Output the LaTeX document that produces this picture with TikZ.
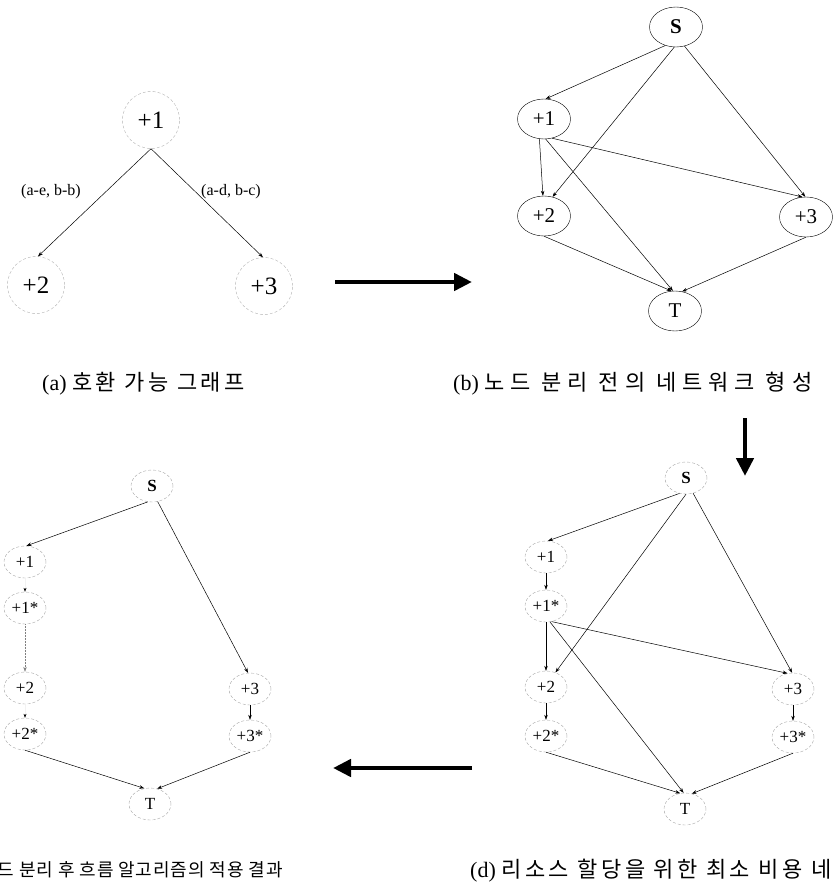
\documentclass[tikz,border=0pt]{standalone}
\usepackage{fontspec}
\setmainfont{Liberation Serif}
\newfontfamily\kr[LetterSpace=16]{Noto Sans CJK KR}
\newfontfamily\krb[LetterSpace=27]{Noto Sans CJK KR}
\newfontfamily\krc[LetterSpace=5]{Noto Sans CJK KR}
\usetikzlibrary{arrows.meta,shapes.geometric}

\tikzset{
  cnode/.style={circle, draw=gray!60, densely dashed, minimum size=57pt, inner sep=0pt, font=\fontsize{25}{25}\selectfont},
  bnode/.style={ellipse, draw, minimum width=53pt, minimum height=40pt, inner sep=0pt, font=\fontsize{21}{21}\selectfont},
  snode/.style={ellipse, draw=gray!70, densely dashed, minimum width=42pt, minimum height=32pt, inner sep=0pt, font=\fontsize{17}{17}\selectfont},
  link/.style={-{Stealth[length=5pt,width=3.5pt]}, line width=0.5pt},
  faint/.style={-{Stealth[length=4pt,width=3pt,color=black]}, draw=gray!10, line width=0.5pt},
  bigarrow/.style={-{Triangle[length=18pt,width=17pt]}, line width=4.5pt},
  captext/.style={font=\fontsize{22}{22}\selectfont, inner sep=0pt},
  elabel/.style={font=\fontsize{16}{16}\selectfont, inner sep=0pt},
}

\begin{document}
\begin{tikzpicture}[x=1pt,y=-1pt]
    \useasboundingbox (0,0) rectangle (833,892);
    \clip (0,0) rectangle (833,892);

    % (a) compatibility graph
    \node[cnode] (a1) at (151,120) {+1};
    \node[cnode] (a2) at (36,285) {+2};
    \node[cnode] (a3) at (264,286) {+3};
    \draw[link] (a1.270) -- (a2.86);
    \draw[link] (a1.270) -- (a3.92);
    \node[elabel] (la) at (51,192) {(a-e, b-b)};
    \node[elabel] (lb) at (231,192) {(a-d, b-c)};
    \node[captext, anchor=west] (capa) at (42,384) {(a)~{\kr 호환 가능 그래프}};

    % (b) network before splitting
    \node[bnode] (bs) at (676,27) {\textbf{S}};
    \node[bnode] (b1) at (544,119) {+1};
    \node[bnode] (b2) at (544,216) {+2};
    \node[bnode] (b3) at (806,217) {+3};
    \node[bnode] (bt) at (675,311) {T};
    \draw[link] (bs.240) -- (b1.85);
    \draw[link] (bs.265) -- (b2.66);
    \draw[link] (bs.294) -- (b3.92);
    \draw[link] (b1.257) -- (b2.93);
    \draw[link] (b1.275) -- (bt.96);
    \draw[link] (b1.293) -- (b3.100);
    \draw[link] (b2.270) -- (bt.100);
    \draw[link] (b3.270) -- (bt.70);
    \node[captext, anchor=west] (capb) at (453,384) {(b)~{\krb 노드 분리 전의 네트워크 형성}};

    % (d) min cost network
    \node[snode] (ds) at (686,478) {\textbf{S}};
    \node[snode] (d1) at (546,557) {+1};
    \node[snode] (d1s) at (546,606) {+1*};
    \node[snode] (d2) at (546,687) {+2};
    \node[snode] (d2s) at (546,736) {+2*};
    \node[snode] (d3) at (793,689) {+3};
    \node[snode] (d3s) at (793,737) {+3*};
    \node[snode] (dt) at (685,809) {T};
    \draw[link] (ds.247) -- (d1.83);
    \draw[link] (ds.270) -- (d2.57);
    \draw[link] (ds.295) -- (d3.93);
    \draw[link] (d1) -- (d1s);
    \draw[link] (d1s) -- (d2);
    \draw[link] (d1s.284) -- (dt.95);
    \draw[link] (d1s.290) -- (d3.109);
    \draw[link] (d2) -- (d2s);
    \draw[link] (d3) -- (d3s);
    \draw[link] (d2s.270) -- (dt.107);
    \draw[link] (d3s.270) -- (dt.66);
    \node[captext, anchor=west] (capd) at (470,871) {(d)~{\kr 리소스 할당을 위한 최소 비용 네트워크}};

    % (c) result of the flow algorithm
    \node[snode] (cs) at (152,486) {\textbf{S}};
    \node[snode] (c1) at (25,562) {+1};
    \node[snode] (c1s) at (25,608) {+1*};
    \node[snode] (c2) at (25,688) {+2};
    \node[snode] (c2s) at (25,734) {+2*};
    \node[snode] (c3) at (250,689) {+3};
    \node[snode] (c3s) at (250,736) {+3*};
    \node[snode] (ct) at (150,804) {T};
    \draw[link] (cs.255) -- (c1.85);
    \draw[link] (cs.290) -- (c3.97);
    \draw[faint] (c1) -- (c1s);
    \draw[link, gray, densely dotted] (c1s) -- (c2);
    \draw[faint] (c2) -- (c2s);
    \draw[link] (c3) -- (c3s);
    \draw[link] (c2s.270) -- (ct.110);
    \draw[link] (c3s.270) -- (ct.65);
    \node[captext, font=\fontsize{18}{18}\selectfont, anchor=east] (capc) at (283,871) {(c)~{\krc 노드 분리 후 흐름 알고리즘의 적용 결과}};

    % thick arrows between the panels
    \coordinate (ra) at (335,282);
    \coordinate (rb) at (472,282);
    \coordinate (da) at (745,418);
    \coordinate (db) at (745,476);
    \coordinate (la) at (472,768);
    \coordinate (lb) at (333,768);
    \draw[bigarrow] (ra) -- (rb);
    \draw[bigarrow] (da) -- (db);
    \draw[bigarrow] (la) -- (lb);
\end{tikzpicture}
\end{document}
